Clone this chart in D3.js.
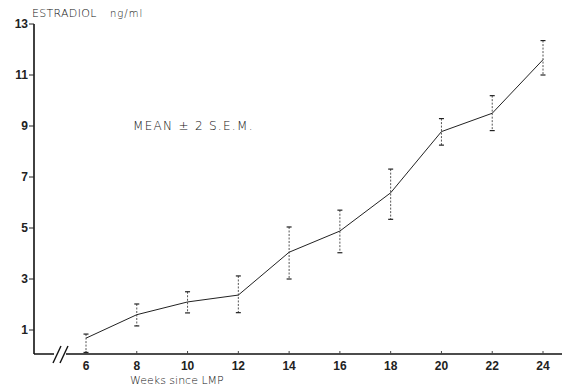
<!DOCTYPE html>
<html>
<head>
<meta charset="utf-8">
<script src="https://cdn.jsdelivr.net/npm/d3@7"></script>
<style>
  body { margin: 0; background: #fff; }
  .tick-label { font-family: "Liberation Sans", Arial, sans-serif; font-size: 12px; font-weight: bold; fill: #222; }
  .thin { font-family: "DejaVu Sans", sans-serif; font-weight: 200; fill: #111; }
</style>
</head>
<body>
<div id="chart"></div>
<script>
// weeks since LMP
const weeks = [6, 8, 10, 12, 14, 16, 18, 20, 22, 24];
// mean estradiol, ng/ml
const means = [0.68, 1.6, 2.1, 2.37, 4.05, 4.88, 6.38, 8.78, 9.5, 11.6];
// mean - 2 SEM, mean + 2 SEM
const lows = [0.12, 1.16, 1.67, 1.68, 3.0, 4.03, 5.34, 8.25, 8.82, 11.0];
const highs = [0.84, 2.02, 2.5, 3.12, 5.04, 5.7, 7.31, 9.29, 10.19, 12.35];
const yTicks = [1, 3, 5, 7, 9, 11, 13];

const data = weeks.map((w, i) => ({ week: w, mean: means[i], lo: lows[i], hi: highs[i] }));

const W = 562, H = 388;
const svg = d3.select('#chart').append('svg')
  .attr('width', W)
  .attr('height', H);

const x = d3.scaleLinear().domain([6, 24]).range([86, 543]);
const y = d3.scaleLinear().domain([0, 13]).range([355.5, 24]);
const axisX = 34, axisY = 354;

// y axis
svg.append('line')
  .attr('x1', axisX).attr('x2', axisX)
  .attr('y1', y(13)).attr('y2', axisY)
  .attr('stroke', '#111').attr('stroke-width', 1.6);

const yg = svg.append('g');
yg.selectAll('line').data(yTicks).enter().append('line')
  .attr('x1', axisX - 5).attr('x2', axisX)
  .attr('y1', d => y(d)).attr('y2', d => y(d))
  .attr('stroke', '#222').attr('stroke-width', 1);
yg.selectAll('text').data(yTicks).enter().append('text')
  .attr('class', 'tick-label')
  .attr('x', axisX - 6)
  .attr('y', d => y(d) + 4)
  .attr('text-anchor', 'end')
  .text(d => d);

// x axis, with break
svg.append('line')
  .attr('x1', axisX).attr('x2', W)
  .attr('y1', axisY).attr('y2', axisY)
  .attr('stroke', '#111').attr('stroke-width', 1.6);
svg.append('rect')
  .attr('x', 54).attr('y', axisY - 3).attr('width', 12).attr('height', 6)
  .attr('fill', '#fff');
[53, 60].forEach(bx => {
  svg.append('line')
    .attr('x1', bx).attr('y1', 363)
    .attr('x2', bx + 8).attr('y2', 346)
    .attr('stroke', '#111').attr('stroke-width', 1.4);
});

const xg = svg.append('g');
xg.selectAll('line').data(weeks).enter().append('line')
  .attr('x1', d => x(d)).attr('x2', d => x(d))
  .attr('y1', axisY - 3).attr('y2', axisY)
  .attr('stroke', '#444').attr('stroke-width', 1);
xg.selectAll('text').data(weeks).enter().append('text')
  .attr('class', 'tick-label')
  .attr('x', d => x(d))
  .attr('y', 370)
  .attr('text-anchor', 'middle')
  .text(d => d);

// labels
svg.append('text').attr('class', 'thin')
  .attr('x', 32).attr('y', 17)
  .attr('font-size', '11px')
  .attr('letter-spacing', '0.3px')
  .text('ESTRADIOL');
svg.append('text').attr('class', 'thin')
  .attr('x', 110).attr('y', 17)
  .attr('font-size', '10px')
  .attr('letter-spacing', '1px')
  .text('ng/ml');
svg.append('text').attr('class', 'thin')
  .attr('x', 133).attr('y', 130)
  .attr('font-size', '12px')
  .attr('letter-spacing', '1.3px')
  .text('MEAN ± 2 S.E.M.');
svg.append('text').attr('class', 'thin')
  .attr('x', 130).attr('y', 384)
  .attr('font-size', '11px')
  .text('Weeks  since LMP');

// error bars
const eb = svg.append('g').selectAll('g').data(data).enter().append('g');
eb.append('line')
  .attr('x1', d => x(d.week)).attr('x2', d => x(d.week))
  .attr('y1', d => y(d.hi)).attr('y2', d => y(d.lo))
  .attr('stroke', '#555').attr('stroke-width', 1)
  .attr('stroke-dasharray', '2,1.5');
eb.append('line')
  .attr('x1', d => x(d.week) - 2.5).attr('x2', d => x(d.week) + 2.5)
  .attr('y1', d => y(d.hi)).attr('y2', d => y(d.hi))
  .attr('stroke', '#222').attr('stroke-width', 1.2);
eb.append('line')
  .attr('x1', d => x(d.week) - 2.5).attr('x2', d => x(d.week) + 2.5)
  .attr('y1', d => y(d.lo)).attr('y2', d => y(d.lo))
  .attr('stroke', '#222').attr('stroke-width', 1.2);

// mean line
const line = d3.line().x(d => x(d.week)).y(d => y(d.mean));
svg.append('path')
  .datum(data)
  .attr('d', line)
  .attr('fill', 'none')
  .attr('stroke', '#222')
  .attr('stroke-width', 1);
</script>
</body>
</html>
